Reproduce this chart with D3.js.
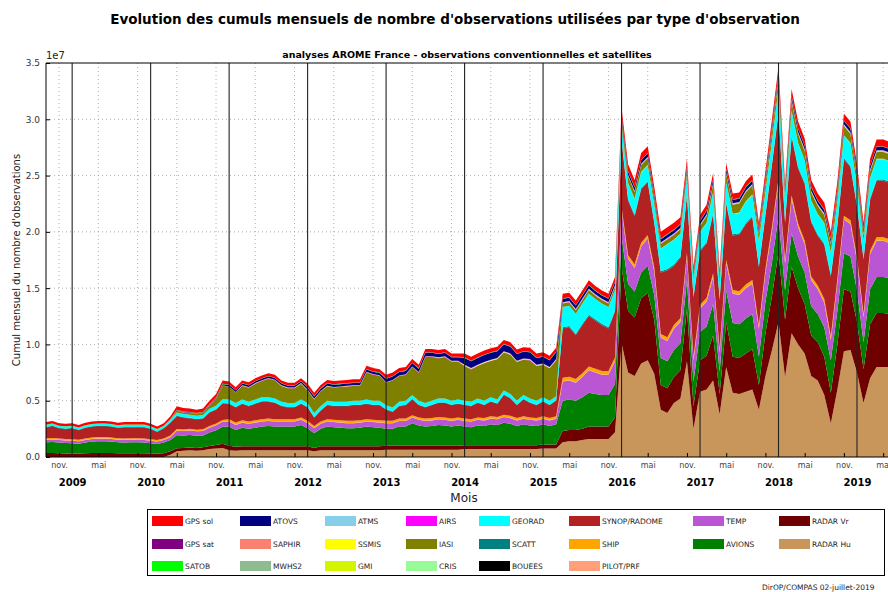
<!DOCTYPE html>
<html><head><meta charset="utf-8">
<script src="https://cdn.jsdelivr.net/npm/d3@7"></script>
<style>body{margin:0;background:#fff} text{font-family:"DejaVu Sans",sans-serif}</style>
</head><body><svg id="c" width="888" height="592"></svg>
<script>
// ---- values in units of 1e5 observations / month, Sep 2008 .. Jun 2019 ----
const UNIT = 1e5;
const START_YEAR = 2008, START_MONTH = 8; // September 2008
const yearLabels = ["2009","2010","2011","2012","2013","2014","2015","2016","2017","2018","2019"];
const yTickValues = [0, 0.5e7, 1.0e7, 1.5e7, 2.0e7, 2.5e7, 3.0e7, 3.5e7];
const monthTickNames = {10: "nov.", 4: "mai"};

const radarHu = [0,0,0,0,
 0,0,0,0,0,0,0,0,0,0,0,0,
 0,0,0,2,5,5.5,6,5.5,6,7,7.5,8,
 6,5.5,6,6,6,6,6,6,6,6,6,6,
 6,5,6,6,6,6,6,6,6,6,6,6,
 6.5,6.5,6.5,6.5,6.5,6.5,6.5,6.5,6.5,6.5,6.5,6.5,
 7,7,7,7,7,7,7,7,7,7,7,7,
 7.5,7.5,7.5,13,14,14,15,16,16,16,16,22,
 101,75,72,83,86,74,42,39,48,52,85,25,
 58,60,68,38,80,57,56,58,60,42,72,95,
 120,71,110,100,92,72,68,55,30,60,94,95,
 75,48,70,80,80,80];
const radarVr = [3.5,3.5,3.3,3.2,
 3.2,3.0,3.3,3.5,3.6,3.6,3.5,3.3,3.3,3.4,3.4,3.4,
 3.2,3.0,3.3,3.0,2.8,2.5,2.5,2.5,2.6,2.8,3.2,3.8,
 4,3.5,3.5,3.5,3.5,3.5,3.5,3.5,3.5,3.5,3.5,3.5,
 3.5,3,3.5,3.5,3.5,3.5,3.5,3.5,3.5,3.5,3.5,3.5,
 3.5,3.5,3.5,3.5,3.5,3.5,3.5,3.5,3.5,3.5,3.5,3.5,
 3.5,3.5,3.5,3.5,3.5,3.5,3.5,3.5,3.5,3.5,3.5,3.5,
 3.5,3.5,3.5,10,10,10,10,11,11,11,11,13,
 68,55,52,58,60,48,22,22,23,25,47,20,
 28,30,40,18,40,32,32,34,36,22,38,48,
 62,51,59,50,44,36,34,34,27,40,55,52,
 45,30,48,48,48,47];
const avions = [9.5,9.8,9.5,9.2,
 9.0,8.8,9.5,10.2,10.5,10.5,10.2,9.8,9.5,9.6,9.6,9.5,
 9.0,8.6,9.5,10,11.5,11,11,10.8,10.5,12,13,15,
 17,15,16.5,15.5,16.5,17.5,18,17.5,17.5,17.5,17.5,19,
 16,13,15.5,17.5,17,16.5,16,16,16.5,17.5,17,16.5,
 15,15,17,17,20,18,17,17.5,18.5,18,17,18,
 16.5,16,17.5,17,18.5,18,20,19,17,18.5,17.5,17,
 18,16.5,18,27,27,26,28,30,29,28,28,30,
 27,24,23,23,24,22,24,24,24,24,25,22,
 25,26,28,20,28,30,30,31,31,25,28,30,
 32,26,30,28,28,26,25,26,29,30,32,31,
 28,24,31,32,32,32];
const temp = [2.2,2.2,2.2,2.2,
 2.2,2.2,2.2,2.2,2.2,2.2,2.2,2.2,2.2,2.2,2.2,2.2,
 2.2,2.2,2.2,2.5,4,4,4,4,4,4.2,4.5,4.5,
 4.5,4.5,4.5,4.5,4.5,4.5,4.5,4.5,4.5,4.5,4.5,4.5,
 4.5,4.5,4.5,4.5,4.5,4.5,4.5,4.5,4.5,4.5,4.5,4.5,
 5,5,5,5,5,5,5,5,5,5,5,5,
 5,5,5,5,5,5,5,5,5,5,5,5,
 5,5,5,17,17,16,18,20,19,18,18,20,
 23,22,21,23,24,21,18,18,19,19,21,19,
 21,22,24,17,24,26,26,27,27,25,26,28,
 30,24,30,26,25,23,22,22,18,25,30,29,
 26,22,31,32,32,31];
const pilot = [0.3,0.3,0.3,0.3,
 0.3,0.3,0.3,0.3,0.3,0.3,0.3,0.3,0.3,0.3,0.3,0.3,
 0.3,0.3,0.3,0.3,0.3,0.3,0.3,0.3,0.3,0.3,0.3,0.3,
 0.3,0.3,0.3,0.3,0.3,0.3,0.3,0.3,0.3,0.3,0.3,0.3,
 0.3,0.3,0.3,0.3,0.3,0.3,0.3,0.3,0.3,0.3,0.3,0.3,
 0.3,0.3,0.3,0.3,0.3,0.3,0.3,0.3,0.3,0.3,0.3,0.3,
 0.3,0.3,0.3,0.3,0.3,0.3,0.3,0.3,0.3,0.3,0.3,0.3,
 0.3,0.3,0.3,0.3,0.3,0.3,0.3,0.3,0.3,0.3,0.3,0.3,
 0.3,0.3,0.3,0.3,0.3,0.3,0.3,0.3,0.3,0.3,0.3,0.3,
 0.3,0.3,0.3,0.3,0.3,0.3,0.3,0.3,0.3,0.3,0.3,0.3,
 0.3,0.3,0.3,0.3,0.3,0.3,0.3,0.3,0.3,0.3,0.3,0.3,
 0.3,0.3,0.3,0.3,0.3,0.3];
const ship = [1.1,1.1,1.1,1.1,
 1.1,1.1,1.1,1.1,1.1,1.1,1.1,1.1,1.1,1.1,1.1,1.1,
 1.1,1.1,1.1,1.2,1.2,1.2,1.2,1.2,1.2,1.2,1.2,1.2,
 1.8,1.8,1.8,1.8,1.8,1.8,1.8,1.8,1.8,1.8,1.8,1.8,
 1.8,1.8,1.8,1.8,1.8,1.8,1.8,1.8,1.8,1.8,1.8,1.8,
 1.8,1.8,1.8,1.8,1.8,1.8,1.8,1.8,1.8,1.8,1.8,1.8,
 1.8,1.8,1.8,1.8,1.8,1.8,1.8,1.8,1.8,1.8,1.8,1.8,
 1.8,1.8,1.8,3,3,3,3,3,3,3,3,3,
 3,3,3,3,3,3,3,3,3,3,3,3,
 3,3,3,3,3,3,3,3,3,3,3,3,
 3,3,3,3,3,3,3,3,3,3,3,3,
 3,3,3,3,3,3];
const synop = [9.6,10.3,8.8,8.7,
 9.4,8.3,9.3,9.4,9.5,9.5,9.4,9.0,9.8,9.6,9.6,9.7,
 8.9,7.0,8.8,11.2,11.4,10.2,9.2,8.9,9.3,11.8,12.1,14.5,
 13.3,13.3,14.3,13.3,14.3,15.3,14.8,14.3,11.3,10.3,10.3,11.8,
 11.8,7.3,9.3,12.3,11.8,12.3,12.8,13.8,13.3,13.3,12.8,13.3,
 9.8,7.8,10.8,11.8,13.8,10.8,9.8,11.3,12.3,12.8,11.8,11.8,
 11.8,11.3,12.8,11.3,12.8,11.3,17.3,15.3,11.3,14.8,12.8,11.3,
 12.8,11.3,13.8,43.7,43.7,38.7,42.7,44.7,42.7,40.7,37.7,40.7,
 58.4,48.4,42.4,47.4,46.4,39.4,54.4,59.4,52.4,53.4,50.4,52.4,
 47.2,48.2,52.2,43.2,49.2,48.2,50.2,53.2,55.2,51.2,47,55,
 58,32.7,52,49,50,48,44,48,53,47,50,47,
 45,48,45,50,50,50];
const bouees = [0.3,0.3,0.3,0.3,
 0.3,0.3,0.3,0.3,0.3,0.3,0.3,0.3,0.3,0.3,0.3,0.3,
 0.3,0.3,0.3,0.3,0.3,0.3,0.3,0.3,0.3,0.3,0.3,0.3,
 0.3,0.3,0.3,0.3,0.3,0.3,0.3,0.3,0.3,0.3,0.3,0.3,
 0.3,0.3,0.3,0.3,0.3,0.3,0.3,0.3,0.3,0.3,0.3,0.3,
 0.3,0.3,0.3,0.3,0.3,0.3,0.3,0.3,0.3,0.3,0.3,0.3,
 0.3,0.3,0.3,0.3,0.3,0.3,0.3,0.3,0.3,0.3,0.3,0.3,
 0.3,0.3,0.3,0.3,0.3,0.3,0.3,0.3,0.3,0.3,0.3,0.3,
 0.3,0.3,0.3,0.3,0.3,0.3,0.3,0.3,0.3,0.3,0.3,0.3,
 0.3,0.3,0.3,0.3,0.3,0.3,0.3,0.3,0.3,0.3,0.3,0.3,
 0.3,0.3,0.3,0.3,0.3,0.3,0.3,0.3,0.3,0.3,0.3,0.3,
 0.3,0.3,0.3,0.3,0.3,0.3];
const scatt = [0.2,0.2,0.2,0.2,
 0.2,0.2,0.2,0.2,0.2,0.2,0.2,0.2,0.2,0.2,0.2,0.2,
 0.2,0.2,0.2,0.2,0.3,0.3,0.3,0.3,0.3,0.3,0.3,0.3,
 0.3,0.3,0.3,0.3,0.3,0.3,0.3,0.3,0.3,0.3,0.3,0.3,
 0.3,0.3,0.3,0.3,0.3,0.3,0.3,0.3,0.3,0.3,0.3,0.3,
 0.3,0.3,0.3,0.3,0.3,0.3,0.3,0.3,0.3,0.3,0.3,0.3,
 0.3,0.3,0.3,0.3,0.3,0.3,0.3,0.3,0.3,0.3,0.3,0.3,
 0.3,0.3,0.3,1,1,1,1,1,1,1,1,1,
 1,1,1,1,1,1,1,1,1,1,1,1,
 1,1,1,1,1,1,1,1,1,1,1,1,
 1,1,1,1,1,1,1,1,1,1,1,1,
 1,1,1,1,1,1];
const georad = [1.8,1.8,1.8,1.8,
 1.8,1.8,1.8,1.8,1.8,1.8,1.8,1.8,1.8,1.8,1.8,1.8,
 1.8,1.8,1.8,2.0,2.8,2.8,2.8,2.8,2.8,3.0,3.2,3.5,
 3.5,3.5,3.5,3.5,3.5,3.5,3.5,3.5,3.5,3.5,3.5,3.5,
 3.5,3.5,3.5,3.5,3.5,3.5,3.5,3.5,3.5,3.5,3.5,3.5,
 3.5,3.5,3.5,3.5,3.5,3.5,3.5,3.5,3.5,3.5,3.5,3.5,
 3.5,3.5,3.5,3.5,3.5,3.5,3.5,3.5,3.5,3.5,3.5,3.5,
 3.5,3.5,3.5,18,18,18,18,19,18,18,18,18,
 12,14,14,14,14,15,20,22,22,20,16,14,
 16,17,18,12,18,18,18,19,19,22,20,20,
 21,18,22,21,20,18,18,18,20,20,20,20,
 18,15,18,18,18,18];
const cris = [0,0,0,0,
 0,0,0,0,0,0,0,0,0,0,0,0,
 0,0,0,0,0,0,0,0,0,0,0,0,
 0,0,0,0,0,0,0,0,0,0,0,0,
 0,0,0,0,0,0,0,0,0,0,0,0,
 0,0,0,0,0,0,0,0,0,0,0,0,
 0,0,0,0,0,0,0,0,0,0,0,0,
 0,0,0,0,0,0,0,0,0,0,0,0,
 0.3,0.3,0.3,0.3,0.3,0.3,0.3,0.3,0.3,0.3,0.3,0.3,
 0.3,0.3,0.3,0.3,0.3,0.3,0.3,0.3,0.3,0.3,0.3,0.3,
 0.3,0.3,0.3,0.3,0.3,0.3,0.3,0.3,0.3,0.3,0.3,0.3,
 0.3,0.3,0.3,0.3,0.3,0.3];
const iasi = [0,0,0,0,
 0,0,0,0,0,0,0,0,0,0,0,0,
 0,0,0,0.5,1.5,1.5,1.5,1.5,1.8,3.0,6.0,12,
 11.4,9.4,12.1,12.6,14.1,14.6,16.6,16.1,14.1,13.1,13.1,14.1,
 11.1,12.1,13.1,12.6,12.6,13.1,13.6,13.1,13.1,24.1,23.1,22.1,
 19.9,23.9,22.9,22.9,24.9,24.9,40.9,38.9,35.7,36.7,34.7,33.7,
 30.8,28.8,28.8,33.3,32.3,35.8,33.8,34.8,34.3,31.3,33.8,30.8,
 28.8,28.8,31.8,3,3,3,3,3,3,3,3,3,
 5,6,6,6,6,5,4,4,4,4,5,3,
 5,6,7,4,7,8,8,8,8,6,7,8,
 8,5,8,8,8,7,7,7,7,7,8,8,
 7,5,6,6,6,6];
const airs = [0,0,0,0,
 0,0,0,0,0,0,0,0,0,0,0,0,
 0,0,0,0,0.3,0.3,0.3,0.3,0.3,0.3,0.3,0.3,
 0.3,0.3,0.3,0.3,0.3,0.3,0.3,0.3,0.3,0.3,0.3,0.3,
 0.3,0.3,0.3,0.3,0.3,0.3,0.3,0.3,0.3,0.3,0.3,0.3,
 0.3,0.3,0.3,0.3,0.3,0.3,0.3,0.3,0.3,0.3,0.3,0.3,
 0.3,0.3,0.3,0.3,0.3,0.3,0.3,0.3,0.3,0.3,0.3,0.3,
 0.3,0.3,0.3,0.3,0.3,0.3,0.3,0.3,0.3,0.3,0.3,0.3,
 0.3,0.3,0.3,0.3,0.3,0.3,0.3,0.3,0.3,0.3,0.3,0.3,
 0.3,0.3,0.3,0.3,0.3,0.3,0.3,0.3,0.3,0.3,0.3,0.3,
 0.3,0.3,0.3,0.3,0.3,0.3,0.3,0.3,0.3,0.3,0.3,0.3,
 0.3,0.3,0.3,0.3,0.3,0.3];
const gmi = [0,0,0,0,
 0,0,0,0,0,0,0,0,0,0,0,0,
 0,0,0,0,0,0,0,0,0,0,0,0,
 0,0,0,0,0,0,0,0,0,0,0,0,
 0,0,0,0,0,0,0,0,0,0,0,0,
 0,0,0,0,0,0,0,0,0,0,0,0,
 0,0,0,0,0,0,0,0,0,0,0,0,
 0,0,0,0,0,0,0,0,0,0,0,0,
 0,0,0,0,0,0,0,0,0,0,0,0,
 0,0,0,0,0,0,0,0,0,0,0.2,0.2,
 0.2,0.2,0.2,0.2,0.2,0.2,0.2,0.2,0.2,0.2,0.2,0.2,
 0.2,0.2,0.2,0.2,0.2,0.2];
const ssmis = [0,0,0,0,
 0,0,0,0,0,0,0,0,0,0,0,0,
 0,0,0,0,0,0,0,0,0,0,0,0,
 0,0,0.3,0.3,0.3,0.3,0.3,0.3,0.3,0.3,0.3,0.3,
 0.3,0.3,0.3,0.3,0.3,0.3,0.3,0.3,0.3,0.3,0.3,0.3,
 0.3,0.3,0.3,0.3,0.3,0.3,0.3,0.3,0.3,0.3,0.3,0.3,
 0.3,0.3,0.3,0.3,0.3,0.3,0.3,0.3,0.3,0.3,0.3,0.3,
 0.3,0.3,0.3,0.3,0.3,0.3,0.3,0.3,0.3,0.3,0.3,0.3,
 0.3,0.3,0.3,0.3,0.3,0.3,0.3,0.3,0.3,0.3,0.3,0.3,
 0.3,0.3,0.3,0.3,0.3,0.3,0.3,0.3,0.3,0.3,0.3,0.3,
 0.3,0.3,0.3,0.3,0.3,0.3,0.3,0.3,0.3,0.3,0.3,0.3,
 0.3,0.3,0.3,0.3,0.3,0.3];
const atms = [0,0,0,0,
 0,0,0,0,0,0,0,0,0,0,0,0,
 0,0,0,0,0,0,0,0,0,0,0,0,
 0,0,0,0,0,0,0,0,0,0,0,0,
 0,0,0,0,0,0,0,0,0,0,0,0,
 0,0,0,0,0,0,0,0,0,0,0,0,
 0.4,0.4,0.4,0.4,0.4,0.4,0.4,0.4,0.4,0.4,0.4,0.4,
 0.4,0.4,0.4,0.4,0.4,0.4,0.4,0.4,0.4,0.4,0.4,0.4,
 0.4,0.4,0.4,0.4,0.4,0.4,0.4,0.4,0.4,0.4,0.4,0.4,
 0.4,0.4,0.4,0.4,0.4,0.4,0.4,0.4,0.4,0.4,0.4,0.4,
 0.4,0.4,0.4,0.4,0.4,0.4,0.4,0.4,0.4,0.4,0.4,0.4,
 0.4,0.4,0.4,0.4,0.4,0.4];
const mwhs2 = [0,0,0,0,
 0,0,0,0,0,0,0,0,0,0,0,0,
 0,0,0,0,0,0,0,0,0,0,0,0,
 0,0,0,0,0,0,0,0,0,0,0,0,
 0,0,0,0,0,0,0,0,0,0,0,0,
 0,0,0,0,0,0,0,0,0,0,0,0,
 0,0,0,0,0,0,0,0,0,0,0,0,
 0,0,0,0,0,0,0,0,0,0,0,0,
 0,0,0,0,0,0,0,0,0,0,0,0,
 0.2,0.2,0.2,0.2,0.2,0.2,0.2,0.2,0.2,0.2,0.2,0.2,
 0.2,0.2,0.2,0.2,0.2,0.2,0.2,0.2,0.2,0.2,0.2,0.2,
 0.2,0.2,0.2,0.2,0.2,0.2];
const saphir = [0,0,0,0,
 0,0,0,0,0,0,0,0,0,0,0,0,
 0,0,0,0,0,0,0,0,0,0,0,0,
 0,0,0,0,0,0,0,0,0,0,0,0,
 0,0,0,0,0,0,0,0,0,0,0,0,
 0,0,0,0,0,0,0,0,0.2,0.2,0.2,0.2,
 0.2,0.2,0.2,0.2,0.2,0.2,0.2,0.2,0.2,0.2,0.2,0.2,
 0.2,0.2,0.2,0.2,0.2,0.2,0.2,0.2,0.2,0.2,0.2,0.2,
 0.2,0.2,0.2,0.2,0.2,0.2,0.2,0.2,0.2,0.2,0.2,0.2,
 0.2,0.2,0.2,0.2,0.2,0.2,0.2,0.2,0.2,0.2,0.2,0.2,
 0.2,0.2,0.2,0.2,0.2,0.2,0.2,0.2,0.2,0.2,0.2,0.2,
 0.2,0.2,0.2,0.2,0.2,0.2];
const atovs = [0,0,0,0,
 0,0,0,0,0,0,0,0,0,0,0,0,
 0,0,0,0,0.3,0.3,0.3,0.3,0.3,0.5,0.8,1,
 1.5,1.5,1.5,1.5,1.5,1.5,1.5,1.5,1.5,1.5,1.5,1.5,
 2,2,2,2,2,2,2,2,2,2,2,2,
 3,3,3,3,3,3,3,3,3,3,3,3,
 6,6,6,6,6,6,6,6,6,6,6,6,
 6,6,6,3,3,3,3,3,3,3,3,3,
 3,3,3,3,3,3,3,3,3,3,3,2,
 3,3,3,2,3,3,3,3,3,3,3,3,
 3,3,3,3,3,3,3,3,3,3,3,3,
 3,3,3,3,3,3];
const satob = [0.3,0.3,0.3,0.3,
 0.3,0.3,0.3,0.3,0.3,0.3,0.3,0.3,0.3,0.3,0.3,0.3,
 0.3,0.3,0.3,0.3,0.3,0.3,0.3,0.3,0.3,0.3,0.3,0.3,
 0.3,0.3,0.3,0.3,0.3,0.3,0.3,0.3,0.3,0.3,0.3,0.3,
 0.3,0.3,0.3,0.3,0.3,0.3,0.3,0.3,0.3,0.3,0.3,0.3,
 0.3,0.3,0.3,0.3,0.3,0.3,0.3,0.3,0.3,0.3,0.3,0.3,
 0.3,0.3,0.3,0.3,0.3,0.3,0.3,0.3,0.3,0.3,0.3,0.3,
 0.3,0.3,0.3,0.3,0.3,0.3,0.3,0.3,0.3,0.3,0.3,0.3,
 0.3,0.3,0.3,0.3,0.3,0.3,0.3,0.3,0.3,0.3,0.3,0.3,
 0.3,0.3,0.3,0.3,0.3,0.3,0.3,0.3,0.3,0.3,0.3,0.3,
 0.3,0.3,0.3,0.3,0.3,0.3,0.3,0.3,0.3,0.3,0.3,0.3,
 0.3,0.3,0.3,0.3,0.3,0.3];
const gpsSat = [0,0,0,0,
 0,0,0,0,0,0,0,0,0,0,0,0,
 0,0,0,0,0,0,0,0,0,0,0,0,
 0,0,0,0,0,0,0,0,0,0,0,0,
 0.2,0.2,0.2,0.2,0.2,0.2,0.2,0.2,0.2,0.2,0.2,0.2,
 0.2,0.2,0.2,0.2,0.2,0.2,0.2,0.2,0.2,0.2,0.2,0.2,
 0.2,0.2,0.2,0.2,0.2,0.2,0.2,0.2,0.2,0.2,0.2,0.2,
 0.2,0.2,0.2,0.2,0.2,0.2,0.2,0.2,0.2,0.2,0.2,0.2,
 0.2,0.2,0.2,0.2,0.2,0.2,0.2,0.2,0.2,0.2,0.2,0.2,
 0.2,0.2,0.2,0.2,0.2,0.2,0.2,0.2,0.2,0.2,0.2,0.2,
 0.2,0.2,0.2,0.2,0.2,0.2,0.2,0.2,0.2,0.2,0.2,0.2,
 0.2,0.2,0.2,0.2,0.2,0.2];
const gpsSol = [2.2,2.2,2.2,2.2,
 2.2,2.2,2.2,2.2,2.2,2.2,2.2,2.2,2.2,2.2,2.2,2.2,
 2.2,2.2,2.2,2.5,3,3,3,3,3,3,3,3,
 2.5,2.5,2.5,2.5,2.5,2.5,2.5,2.5,2.5,2.5,2.5,2.5,
 2.8,2.8,2.8,2.8,2.8,2.8,2.8,2.8,2.8,2.8,2.8,2.8,
 3,3,3,3,3,3,3,3,3,3,3,3,
 3.5,3.5,3.5,3.5,3.5,3.5,3.5,3.5,3.5,3.5,3.5,3.5,
 3.5,3.5,3.5,4,4,4,4,4,4,4,4,4,
 6,6,6,6,6,6,6,6,6,6,6,5,
 5,5,5,5,5,5,5,5,5,5,6,6,
 6,5.3,6,6,6,6,6,6,6,6,6,6,
 6,6,6,6,6,6];

// stacking order, bottom to top
const seriesNames = ["RADAR Hu","RADAR Vr","AVIONS","TEMP","PILOT/PRF","SHIP","SYNOP/RADOME","BOUEES","SCATT","GEORAD","CRIS","IASI","AIRS","GMI","SSMIS","ATMS","MWHS2","SAPHIR","ATOVS","SATOB","GPS sat","GPS sol"];
const seriesData = [radarHu,radarVr,avions,temp,pilot,ship,synop,bouees,scatt,georad,cris,iasi,airs,gmi,ssmis,atms,mwhs2,saphir,atovs,satob,gpsSat,gpsSol];
// legend columns (8 columns, 3 rows)
const legendColumns = [["GPS sol","GPS sat","SATOB"],["ATOVS","SAPHIR","MWHS2"],["ATMS","SSMIS","GMI"],["AIRS","IASI","CRIS"],["GEORAD","SCATT","BOUEES"],["SYNOP/RADOME","SHIP","PILOT/PRF"],["TEMP","AVIONS"],["RADAR Vr","RADAR Hu"]];

const colors = {"GPS sol":"#ff0000","GPS sat":"#800080","SATOB":"#00ff00","ATOVS":"#000080","SAPHIR":"#fa8072","MWHS2":"#8fbc8f","ATMS":"#87ceeb","SSMIS":"#ffff00","GMI":"#d4f500","AIRS":"#ff00ff","IASI":"#808000","CRIS":"#98fb98","GEORAD":"#00ffff","SCATT":"#008080","BOUEES":"#000000","SYNOP/RADOME":"#b22222","SHIP":"#ffa500","PILOT/PRF":"#ffa07a","TEMP":"#ba55d3","AVIONS":"#008000","RADAR Vr":"#6e0000","RADAR Hu":"#c8955a"};

// ---- build table ----
const N = radarHu.length;
const categories = d3.range(N).map(i => {
  const m = (START_MONTH + i) % 12, y = START_YEAR + Math.floor((START_MONTH + i) / 12);
  return {idx: i, year: y, month: m};
});
const table = categories.map((c, i) => {
  const row = {idx: c.idx};
  seriesNames.forEach((n, k) => row[n] = seriesData[k][i] * UNIT);
  return row;
});

const svg = d3.select("#c");
svg.append("rect").attr("width", 888).attr("height", 592).attr("fill", "#fff");

const L = 46, T = 63, B = 457;
const x = d3.scaleLinear().domain([0, 124]).range([L, 857]);
const y = d3.scaleLinear().domain([0, 3.5e7]).range([B, T]);

// grid
const nm = categories.filter(c => monthTickNames[c.month] !== undefined);
const jan = categories.filter(c => c.month === 0);
const grid = svg.append("g").attr("stroke", "#9a9a9a").attr("stroke-width", 0.8).attr("stroke-dasharray", "1,3");
yTickValues.slice(1, -1).forEach(v => grid.append("line").attr("x1", L).attr("x2", 888).attr("y1", y(v)).attr("y2", y(v)));
nm.forEach(c => grid.append("line").attr("x1", x(c.idx)).attr("x2", x(c.idx)).attr("y1", T).attr("y2", B));

// stacked areas
const stack = d3.stack().keys(seriesNames);
const layers = stack(table);
const area = d3.area().x(d => x(d.data.idx)).y0(d => y(d[0])).y1(d => y(d[1])).curve(d3.curveLinear);
svg.append("g").selectAll("path").data(layers).join("path")
  .attr("d", area).attr("fill", d => colors[d.key]).attr("stroke", "none");

// year separators
svg.append("g").selectAll("line").data(jan).join("line")
  .attr("x1", d => x(d.idx)).attr("x2", d => x(d.idx)).attr("y1", T).attr("y2", B)
  .attr("stroke", "#222").attr("stroke-width", 1.1);

// frame
svg.append("line").attr("x1", L).attr("x2", 888).attr("y1", T).attr("y2", T).attr("stroke", "#000");
svg.append("line").attr("x1", L).attr("x2", 888).attr("y1", B).attr("y2", B).attr("stroke", "#000");
svg.append("line").attr("x1", L).attr("x2", L).attr("y1", T).attr("y2", B).attr("stroke", "#000");

// y axis
const yAxis = d3.axisLeft(y).tickValues(yTickValues).tickFormat(d => (d / 1e7).toFixed(1)).tickSize(-4).tickPadding(6);
const gy = svg.append("g").attr("transform", `translate(${L},0)`).call(yAxis);
gy.select(".domain").remove();
gy.selectAll("text").attr("font-size", 9).attr("fill", "#333").attr("font-family", "DejaVu Sans");
gy.selectAll("line").attr("stroke", "#000");

// x axis month ticks
const xAxis = d3.axisBottom(x).tickValues(nm.map(c => c.idx)).tickFormat(i => monthTickNames[categories[i].month]).tickSize(-4).tickPadding(5);
const gx = svg.append("g").attr("transform", `translate(0,${B})`).call(xAxis);
gx.select(".domain").remove();
gx.selectAll("text").attr("font-size", 8).attr("fill", "#444").attr("font-family", "DejaVu Sans");
gx.selectAll("line").attr("stroke", "#000");

// year labels
const yearAxis = d3.axisBottom(x).tickValues(jan.map(c => c.idx)).tickFormat((i, k) => yearLabels[k]).tickSize(0).tickPadding(22);
const gyr = svg.append("g").attr("transform", `translate(0,${B})`).call(yearAxis);
gyr.select(".domain").remove();
gyr.selectAll("text").attr("font-size", 10).attr("font-weight", "bold").attr("fill", "#000").attr("font-family", "DejaVu Sans");

// texts
svg.append("text").attr("x", 455).attr("y", 24).attr("text-anchor", "middle").attr("font-size", 13.5).attr("font-weight", "bold")
  .text("Evolution des cumuls mensuels de nombre d'observations utilisées par type d'observation");
svg.append("text").attr("x", 467).attr("y", 58).attr("text-anchor", "middle").attr("font-size", 9.5).attr("font-weight", "bold")
  .text("analyses AROME France - observations conventionnelles et satellites");
svg.append("text").attr("x", 46).attr("y", 59).attr("font-size", 10).attr("fill", "#222").text("1e7");
svg.append("text").attr("transform", "translate(20,260) rotate(-90)").attr("text-anchor", "middle").attr("font-size", 10).attr("fill", "#222")
  .text("Cumul mensuel du nombre d'observations");
svg.append("text").attr("x", 464).attr("y", 502).attr("text-anchor", "middle").attr("font-size", 12).attr("fill", "#222").text("Mois");
svg.append("text").attr("x", 762).attr("y", 590).attr("font-size", 7.5).attr("fill", "#222").text("DirOP/COMPAS 02-juillet-2019");

// legend
const colX = [152, 240, 325, 406, 479, 569, 693, 779];
const rowY = [521, 544, 566];
svg.append("rect").attr("x", 147.5).attr("y", 509.5).attr("width", 737).attr("height", 66).attr("fill", "#fff").attr("stroke", "#000");
const legendItems = legendColumns.flatMap((col, ci) => col.map((name, ri) => ({name, ci, ri})));
const lg = svg.append("g").selectAll("g").data(legendItems).join("g")
  .attr("transform", d => `translate(${colX[d.ci]},${rowY[d.ri]})`);
lg.append("rect").attr("x", 0).attr("y", -5).attr("width", 31).attr("height", 10).attr("fill", d => colors[d.name]);
lg.append("text").attr("x", 33).attr("y", 0).attr("dy", "0.35em").attr("font-size", 7.5).attr("fill", "#222").text(d => d.name);
</script>
</body></html>
